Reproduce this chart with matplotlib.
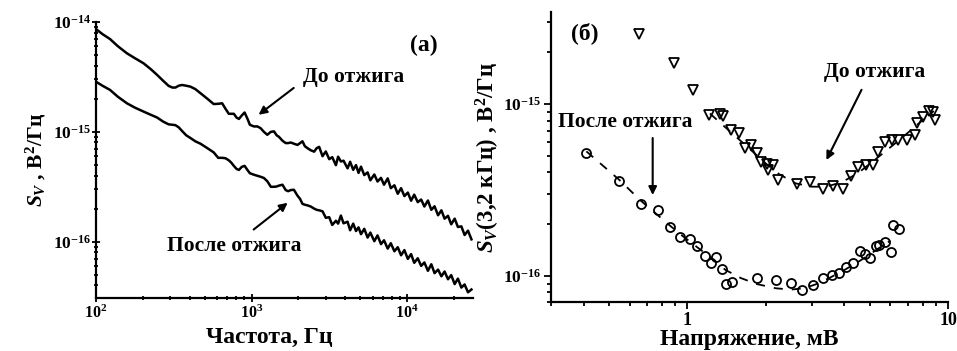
import matplotlib
matplotlib.use("Agg")
import matplotlib.pyplot as plt
import matplotlib.ticker as mticker
import numpy as np

plt.rcParams['font.family'] = ['Liberation Serif', 'DejaVu Serif']
plt.rcParams['font.weight'] = 'bold'
plt.rcParams['mathtext.fontset'] = 'custom'
plt.rcParams['mathtext.rm'] = 'Liberation Serif:bold'
plt.rcParams['mathtext.bf'] = 'Liberation Serif:bold'
plt.rcParams['mathtext.it'] = 'Liberation Serif:bold:italic'
plt.rcParams['mathtext.default'] = 'rm'

# ---------------- Panel (a): noise spectra ----------------
freq_hz = [100, 110, 123, 138, 158, 178, 202, 225, 247, 270,
           293, 310, 324, 340, 357, 380, 404, 435, 469, 520,
           571, 610, 647, 680, 714, 740, 769, 800, 829, 865,
           902, 940, 975, 1035, 1090, 1143, 1200, 1262, 1330, 1393,
           1450, 1500, 1580, 1656, 1720, 1785, 1870, 1971, 2050, 2124,
           2200, 2288, 2400, 2524, 2620, 2719, 2858,
           3000, 3155, 3300, 3484, 3600, 3750, 3900, 4140, 4300, 4500,
           4690, 4870, 5050, 5300, 5570, 5800, 6150, 6450, 6790, 7100,
           7500, 7850, 8280, 8700, 9140, 9600, 10100, 10600, 11100, 11700,
           12300, 12900, 13600, 14300, 15000, 15800, 16600, 17400, 18300, 19200,
           20200, 21200, 22300, 23400, 24600, 25900]

# values in units of 1e-16 V^2/Hz
sv_before = [86.3, 77.6, 70.0, 60.3, 51.9, 46.8, 42.1, 37.2, 33.0, 29.2,
             26.2, 25.3, 25.3, 26.3, 26.7, 26.3, 25.8, 24.5, 22.5, 20.0,
             17.9, 18.0, 18.2, 16.2, 14.6, 14.6, 14.6, 13.5, 13.1, 14.1,
             15.0, 13.2, 11.6, 11.2, 11.2, 10.8, 10.0, 9.4, 10.0, 10.1,
             9.3, 9.0, 8.3, 7.9, 7.9, 8.0, 7.8, 7.6, 7.9, 8.2,
             7.4, 7.1, 6.8, 6.6, 7.1, 7.3, 6.0,
             6.63, 5.64, 5.88, 4.97, 5.94, 5.37, 5.46, 4.65, 5.34, 4.51,
             4.98, 4.23, 4.82, 4.04, 4.27, 3.62, 4.09, 3.53, 3.81, 3.30,
             3.77, 3.07, 3.26, 2.73, 3.07, 2.60, 2.80, 2.36, 2.68, 2.29,
             2.42, 2.09, 2.37, 1.95, 2.10, 1.74, 1.93, 1.62, 1.72, 1.44,
             1.62, 1.36, 1.38, 1.15, 1.26, 1.05]

sv_after = [28.6, 26.3, 24.1, 20.9, 18.2, 16.6, 15.3, 14.3, 13.5, 12.4,
            11.7, 11.6, 11.5, 11.0, 10.2, 9.3, 8.8, 8.2, 7.8, 7.1,
            6.5, 5.8, 5.8, 5.75, 5.5, 5.25, 4.9, 4.6, 4.5, 4.8,
            4.9, 4.5, 4.2, 4.07, 3.98, 3.9, 3.8, 3.55, 3.16, 3.16,
            3.18, 3.24, 3.3, 2.95, 2.88, 2.95, 2.97, 2.63, 2.45, 2.21,
            2.17, 2.14, 2.09, 2.0, 1.95, 1.93, 1.89,
            1.65, 1.67, 1.42, 1.55, 1.46, 1.73, 1.47, 1.52, 1.27, 1.46,
            1.25, 1.35, 1.17, 1.31, 1.09, 1.21, 1.01, 1.14, 0.95, 1.03,
            0.865, 0.968, 0.818, 0.89, 0.752, 0.838, 0.697, 0.771, 0.642, 0.706,
            0.602, 0.647, 0.543, 0.623, 0.517, 0.557, 0.484, 0.535, 0.455, 0.496,
            0.411, 0.461, 0.382, 0.408, 0.346, 0.367]

# ---------------- Panel (б): S_V(3.2 kHz) vs voltage ----------------
u_before = [0.652, 0.886, 1.05, 1.21, 1.33, 1.37, 1.47, 1.58, 1.66, 1.76,
            1.84, 1.92, 2.01, 2.04, 2.13, 2.23, 2.62, 2.96, 3.31, 3.62,
            3.95, 4.23, 4.51, 4.83, 5.15, 5.39, 5.71, 6.06, 6.42, 6.92,
            7.44, 7.60, 8.01, 8.45, 8.75, 8.89]
s_before = [25.6, 17.4, 12.1, 8.6, 8.75, 8.5, 7.1, 6.75, 5.52, 5.77,
            5.16, 4.61, 4.47, 4.13, 4.41, 3.62, 3.42, 3.53, 3.19, 3.33,
            3.19, 3.81, 4.28, 4.41, 4.41, 5.27, 6.03, 6.17, 6.17, 6.17,
            6.6, 7.78, 8.43, 9.14, 9.0, 8.07]

u_after = [0.407, 0.547, 0.662, 0.771, 0.861, 0.94, 1.02, 1.09, 1.165, 1.228,
           1.285, 1.362, 1.40, 1.48, 1.84, 2.18, 2.49, 2.76, 3.03, 3.31,
           3.57, 3.82, 4.07, 4.32, 4.58, 4.79, 5.03, 5.27, 5.43, 5.71,
           6.01, 6.15, 6.48]
s_after = [5.2, 3.57, 2.62, 2.42, 1.92, 1.67, 1.64, 1.48, 1.30, 1.19,
           1.28, 1.09, 0.90, 0.92, 0.97, 0.94, 0.91, 0.83, 0.88, 0.966,
           1.01, 1.04, 1.13, 1.18, 1.40, 1.34, 1.26, 1.48, 1.51, 1.58,
           1.38, 1.97, 1.86]

# dashed guide curves
guide_before_u = [1.22, 1.4, 1.6, 1.8, 2.0, 2.25, 2.6, 3.0, 3.4, 3.9, 4.5, 5.2, 6.0, 7.0, 8.0, 8.8]
guide_before_s = [8.8, 7.3, 6.1, 5.2, 4.5, 3.9, 3.45, 3.3, 3.3, 3.5, 3.95, 4.7, 5.6, 6.8, 8.1, 9.1]
guide_after_u = [0.41, 0.55, 0.66, 0.77, 0.86, 0.96, 1.1, 1.25, 1.4, 1.6, 1.84, 2.18, 2.49,
                 2.8, 3.1, 3.5, 4.0, 4.5, 5.0, 5.5, 6.0]
guide_after_s = [5.3, 3.6, 2.75, 2.25, 1.95, 1.7, 1.45, 1.25, 1.08, 0.97, 0.895, 0.845, 0.83,
                 0.845, 0.89, 0.97, 1.08, 1.2, 1.33, 1.47, 1.6]

# tick values
left_xticks = [1e2, 1e3, 1e4]
left_yticks = [1e-16, 1e-15, 1e-14]
right_xticks = [1, 10]
right_yticks = [1e-16, 1e-15]

UNIT = 1e-16

fig = plt.figure(figsize=(9.57, 3.51), dpi=100)
axL = fig.add_axes([96/957, 1-297.7/351, (473-96)/957, (297.7-22)/351])
axR = fig.add_axes([551/957, 1-302.3/351, (948.3-551)/957, (302.3-11.7)/351])

def sci_fmt(v, pos):
    e = int(round(np.log10(v)))
    return r'$\mathbf{10^{%d}}$' % e

def minor_locs(lo_exp, hi_exp):
    return [m * 10.0**e for e in range(lo_exp, hi_exp) for m in range(2, 10)]

# ----- left panel -----
axL.plot(freq_hz, np.array(sv_before) * UNIT, color='k', lw=1.8)
axL.plot(freq_hz, np.array(sv_after) * UNIT, color='k', lw=1.8)
axL.set_xscale('log')
axL.set_yscale('log')
axL.set_xlim(100, 26500)
axL.set_ylim(10**-16.51, 1e-14)
for sp in ['top', 'right']:
    axL.spines[sp].set_visible(False)
for sp in ['left', 'bottom']:
    axL.spines[sp].set_linewidth(1.6)
axL.xaxis.set_major_locator(mticker.FixedLocator(left_xticks))
axL.xaxis.set_minor_locator(mticker.FixedLocator(minor_locs(2, 5)))
axL.yaxis.set_major_locator(mticker.FixedLocator(left_yticks))
axL.yaxis.set_minor_locator(mticker.FixedLocator(minor_locs(-17, -14)))
axL.xaxis.set_major_formatter(mticker.FuncFormatter(sci_fmt))
axL.yaxis.set_major_formatter(mticker.FuncFormatter(sci_fmt))
axL.xaxis.set_minor_formatter(mticker.NullFormatter())
axL.yaxis.set_minor_formatter(mticker.NullFormatter())
axL.tick_params(which='both', direction='inout', width=1.3)
axL.tick_params(which='major', length=5.5)
axL.tick_params(which='minor', length=3.5)
axL.tick_params(axis='y', which='major', labelsize=12.5, pad=1)
axL.tick_params(axis='x', which='major', labelsize=11.5, pad=2)
axL.set_xlabel('Частота, Гц', fontsize=17, fontweight='bold', labelpad=4)
axL.xaxis.label.set_x(0.46)
axL.set_ylabel(r'$\mathit{S_V}$ , В$^\mathbf{2}$/Гц', fontsize=15.5, fontweight='bold', labelpad=3)

arrow_kw = dict(arrowstyle='-|>', color='k', lw=1.5, mutation_scale=12, shrinkA=0, shrinkB=0)
axL.text(12830, 6.18e-15, '(a)', fontsize=17, fontweight='bold', ha='center', va='center')
axL.text(4530, 3.18e-15, 'До отжига', fontsize=15.5, fontweight='bold', ha='center', va='center')
axL.annotate('', xy=(1109, 1.43e-15), xytext=(1866, 2.51e-15), arrowprops=arrow_kw)
axL.text(776, 9.06e-17, 'После отжига', fontsize=15.5, fontweight='bold', ha='center', va='center')
axL.annotate('', xy=(1706, 2.26e-16), xytext=(1031, 1.29e-16), arrowprops=arrow_kw)

# ----- right panel -----
dash = (0, (5, 5))
axR.plot(guide_before_u, np.array(guide_before_s) * UNIT, color='k', lw=1.3, ls=dash)
axR.plot(guide_after_u, np.array(guide_after_s) * UNIT, color='k', lw=1.3, ls=dash)
axR.plot(u_before, np.array(s_before) * UNIT, ls='none', marker='v', ms=7.5,
         mfc='none', mec='k', mew=1.3)
axR.plot(u_after, np.array(s_after) * UNIT, ls='none', marker='o', ms=6.5,
         mfc='none', mec='k', mew=1.3)
axR.set_xscale('log')
axR.set_yscale('log')
axR.set_xlim(0.3, 10)
axR.set_ylim(7e-17, 3.45e-15)
for sp in ['top', 'right']:
    axR.spines[sp].set_visible(False)
for sp in ['left', 'bottom']:
    axR.spines[sp].set_linewidth(1.6)
axR.xaxis.set_major_locator(mticker.FixedLocator(right_xticks))
axR.xaxis.set_minor_locator(mticker.FixedLocator([v for v in minor_locs(-1, 1) if v >= 0.3]))
axR.yaxis.set_major_locator(mticker.FixedLocator(right_yticks))
axR.yaxis.set_minor_locator(mticker.FixedLocator([v for v in minor_locs(-17, -14) if 7e-17 <= v <= 3.45e-15]))
axR.xaxis.set_major_formatter(mticker.FuncFormatter(lambda v, p: '%g' % v))
axR.yaxis.set_major_formatter(mticker.FuncFormatter(sci_fmt))
axR.xaxis.set_minor_formatter(mticker.NullFormatter())
axR.yaxis.set_minor_formatter(mticker.NullFormatter())
axR.tick_params(which='both', direction='out', width=1.3)
axR.tick_params(which='major', length=5)
axR.tick_params(which='minor', length=3)
axR.tick_params(axis='y', which='major', labelsize=12.5, pad=2)
axR.tick_params(axis='x', which='major', labelsize=13, pad=2)
axR.set_xlabel('Напряжение, мВ', fontsize=17, fontweight='bold', labelpad=0)
axR.set_ylabel(r'$\mathit{S_V}$(3,2 кГц) , В$^\mathbf{2}$/Гц', fontsize=16.5, fontweight='bold', labelpad=1)

axR.text(0.404, 2.59e-15, '(б)', fontsize=17, fontweight='bold', ha='center', va='center')
axR.text(5.23, 1.53e-15, 'До отжига', fontsize=15.5, fontweight='bold', ha='center', va='center')
axR.annotate('', xy=(3.41, 4.72e-16), xytext=(4.65, 1.21e-15), arrowprops=arrow_kw)
axR.text(0.578, 7.89e-16, 'После отжига', fontsize=15.5, fontweight='bold', ha='center', va='center')
axR.annotate('', xy=(0.736, 2.95e-16), xytext=(0.736, 6.34e-16), arrowprops=arrow_kw)

fig.savefig('out.png', dpi=100)
